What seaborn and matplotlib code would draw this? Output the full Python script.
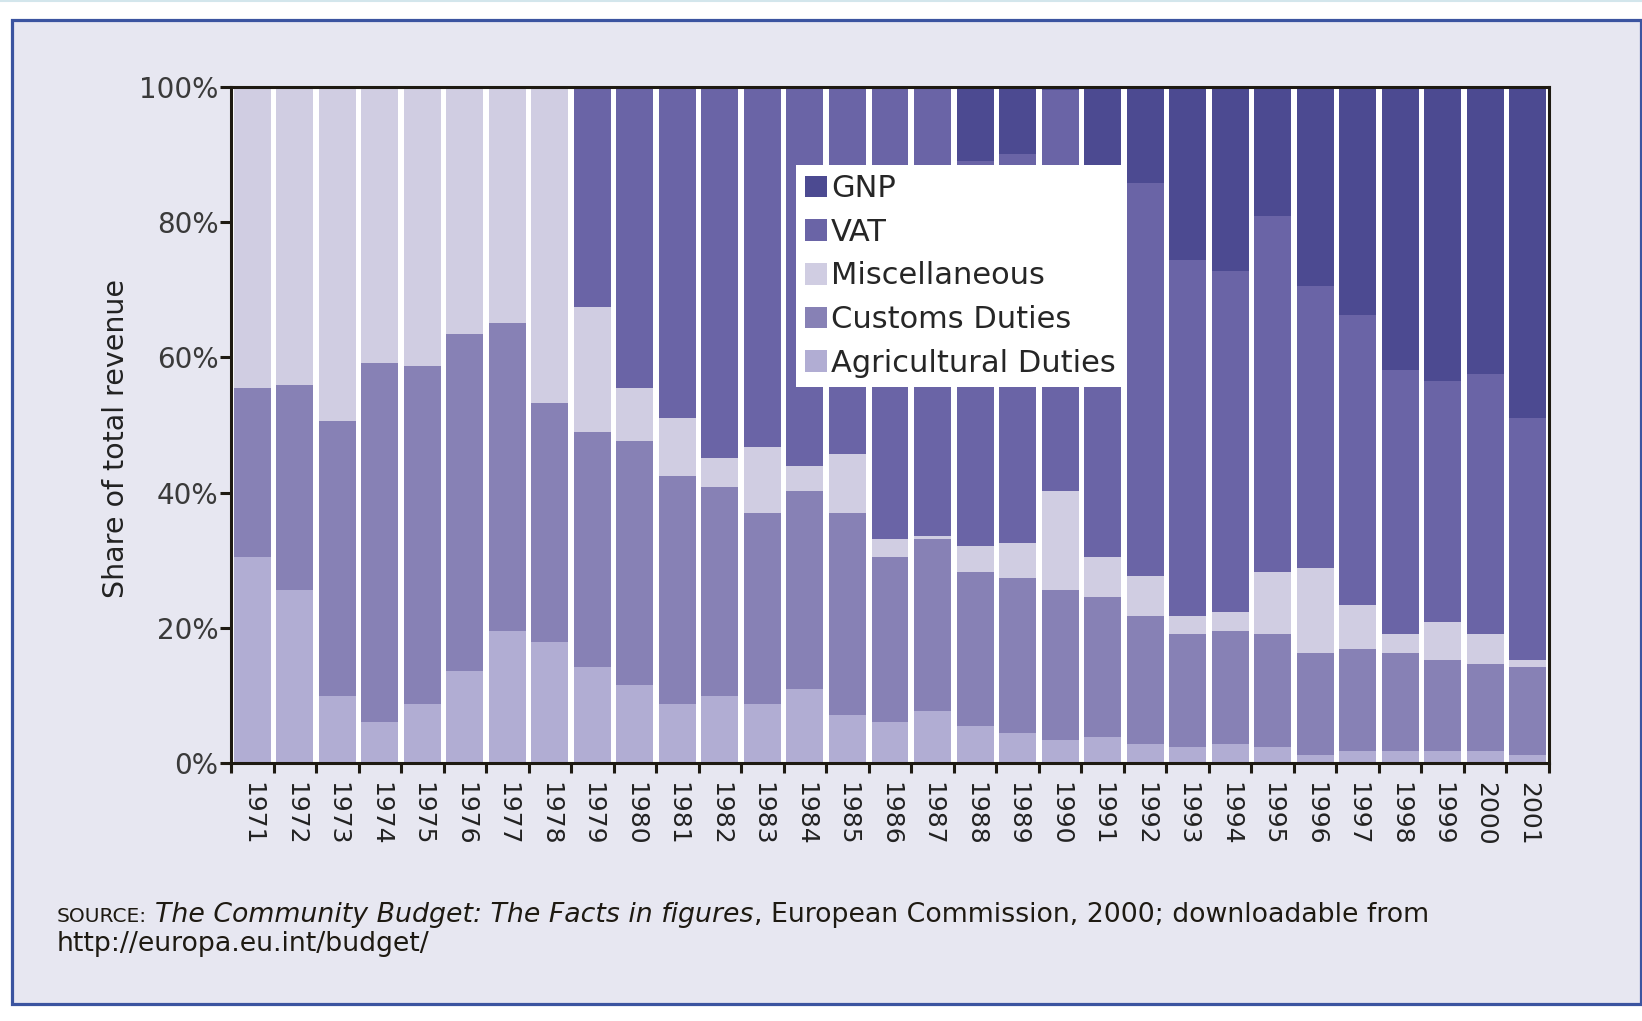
import numpy as np
import pandas as pd
import matplotlib.pyplot as plt
from matplotlib.patches import Patch, Rectangle
from matplotlib.lines import Line2D
import seaborn as sns

# Share of total EC revenue by source, in percent
years = list(range(1971, 2002))
agricultural = [30.4, 25.6, 9.9, 6.1, 8.7, 13.6, 19.6, 17.9, 14.2, 11.6,
                8.7, 9.9, 8.7, 11.0, 7.1, 6.1, 7.7, 5.5, 4.4, 3.4,
                3.8, 2.8, 2.3, 2.8, 2.3, 1.2, 1.8, 1.8, 1.8, 1.8, 1.2]
customs = [25.1, 30.3, 40.7, 53.1, 50.0, 49.9, 45.5, 35.3, 34.7, 36.1,
           33.8, 30.9, 28.3, 29.2, 29.9, 24.3, 25.5, 22.8, 22.9, 22.2,
           20.7, 19.0, 16.8, 16.8, 16.8, 15.1, 15.1, 14.5, 13.5, 12.9, 13.0]
miscellaneous = [44.5, 44.1, 49.4, 40.8, 41.3, 36.5, 34.9, 46.8, 18.5, 7.8,
                 8.5, 4.3, 9.8, 3.8, 8.7, 2.8, 0.4, 3.8, 5.3, 14.6,
                 5.9, 5.9, 2.7, 2.8, 9.2, 12.6, 6.5, 2.8, 5.5, 4.4, 1.1]
vat = [0, 0, 0, 0, 0, 0, 0, 0, 32.6, 44.5,
       49.0, 54.9, 53.2, 56.0, 54.3, 66.8, 66.4, 56.9, 57.5, 59.3,
       57.6, 58.1, 52.6, 50.4, 52.6, 41.7, 42.9, 39.0, 35.7, 38.4, 35.7]
gnp = [0, 0, 0, 0, 0, 0, 0, 0, 0, 0,
       0, 0, 0, 0, 0, 0, 0, 11.0, 9.9, 0.5,
       12.0, 14.2, 25.6, 27.2, 19.1, 29.4, 33.7, 41.9, 43.5, 42.5, 49.0]

sources = ['GNP', 'VAT', 'Miscellaneous', 'Customs Duties', 'Agricultural Duties']
colors = ['#4C4A91', '#6A64A6', '#D0CDE2', '#8781B5', '#B1ADD3']

df = pd.DataFrame({'Year': years, 'GNP': gnp, 'VAT': vat,
                   'Miscellaneous': miscellaneous, 'Customs Duties': customs,
                   'Agricultural Duties': agricultural})
df = df.melt(id_vars='Year', var_name='Source', value_name='Share')

sns.set_style('white')
plt.rcParams['font.family'] = ['DejaVu Sans']

W, H = 1642, 1021
fig = plt.figure(figsize=(W / 100, H / 100), dpi=100)
fig.patch.set_facecolor('white')

# outer frame
fig.add_artist(Rectangle((11.5 / W, 1 - 1004 / H), (1640.5 - 11.5) / W, (1004 - 20.5) / H,
                         transform=fig.transFigure, facecolor='#E7E7F1',
                         edgecolor='#3B54A0', linewidth=2.3, zorder=0))
fig.add_artist(Line2D([0, 1], [1 - 0.8 / H] * 2, transform=fig.transFigure,
                      color='#D3E6EC', linewidth=1.5))

ax = fig.add_axes([231 / W, 1 - 763 / H, (1549 - 231) / W, (763 - 87) / H])
ax.set_facecolor('white')

sns.histplot(data=df, x='Year', hue='Source', weights='Share', hue_order=sources,
             palette=colors, multiple='stack', discrete=True, shrink=0.87,
             alpha=1, linewidth=0, legend=False, ax=ax)

ax.set_xlim(1970.5, 2001.5)
ax.set_ylim(0, 100)

# y axis
ax.set_yticks(range(0, 101, 20))
ax.set_yticklabels([f'{v}%' for v in range(0, 101, 20)])
ax.tick_params(axis='y', direction='out', length=8, width=2.2, color='#1E1A12',
               labelsize=20, labelcolor='#3a3a3a', pad=1, left=True)
ax.set_ylabel('Share of total revenue', fontsize=20.5, color='#222222')
ax.yaxis.set_label_coords((130 - 231) / (1549 - 231), 0.48)

# x axis: ticks between bars, labels under bars
ax.set_xticks(np.arange(1970.5, 2002, 1))
ax.set_xticklabels([])
ax.set_xticks(years, minor=True)
ax.set_xticklabels([str(y) for y in years], minor=True)
ax.tick_params(axis='x', which='major', direction='out', length=7, width=2.2,
               color='#1E1A12', bottom=True)
ax.tick_params(axis='x', which='minor', length=0, pad=14, labelsize=18,
               labelcolor='#222222', labelrotation=270)
ax.set_xlabel('')

for s in ax.spines.values():
    s.set_visible(True)
    s.set_linewidth(2.2)
    s.set_color('#1E1A12')

# legend
handles = [Patch(facecolor=c, edgecolor='none', label=s) for s, c in zip(sources, colors)]
leg = ax.legend(handles=handles, loc='upper left', bbox_to_anchor=(796 / W, 1 - 165 / H),
                bbox_transform=fig.transFigure, fontsize=22, frameon=True,
                fancybox=False, framealpha=1, facecolor='white', edgecolor='none',
                borderpad=0.3, borderaxespad=0, labelspacing=0.48,
                handlelength=0.72, handleheight=0.72, handletextpad=0.12)
leg.set_zorder(10)

# source note
renderer = fig.canvas.get_renderer()
x = 57
y1 = 1 - 922 / H
pieces = [('SOURCE:', dict(fontsize=14.5), 8),
          ('The Community Budget: The Facts in figures', dict(fontsize=19.3, style='italic'), 0),
          (', European Commission, 2000; downloadable from', dict(fontsize=19.3), 0)]
for txt, kw, gap in pieces:
    t = fig.text(x / W, y1, txt, va='baseline', ha='left', color='#1E1A12', **kw)
    bb = t.get_window_extent(renderer)
    x = bb.x1 + gap
fig.text(57 / W, 1 - 951 / H, 'http://europa.eu.int/budget/', fontsize=19.3,
         va='baseline', ha='left', color='#1E1A12')

fig.savefig('out.png', dpi=100, facecolor=fig.get_facecolor())
